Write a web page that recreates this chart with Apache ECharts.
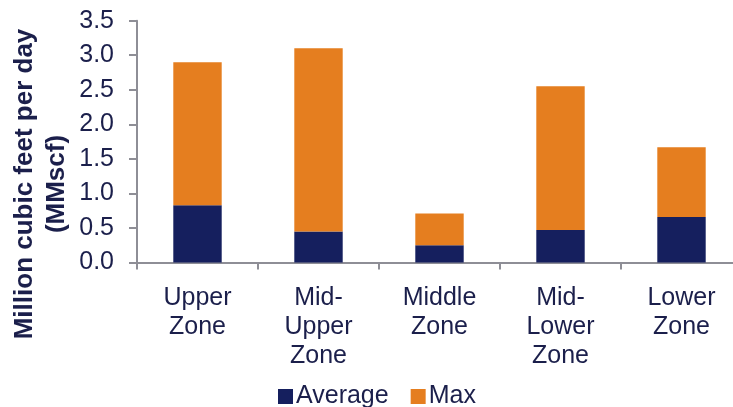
<!DOCTYPE html>
<html>
<head>
<meta charset="utf-8">
<script src="https://cdn.jsdelivr.net/npm/echarts@6/dist/echarts.min.js"></script>
<style>
html,body{margin:0;padding:0;background:#fff;}
#c{width:733px;height:407px;}
</style>
</head>
<body>
<div id="c"></div>
<script>
const categories = ["Upper\nZone", "Mid-\nUpper\nZone", "Middle\nZone", "Mid-\nLower\nZone", "Lower\nZone"];
const averageValues = [0.83, 0.45, 0.25, 0.47, 0.66];
const maxValues = [2.90, 3.10, 0.71, 2.55, 1.67];
const yTicks = [0, 0.5, 1.0, 1.5, 2.0, 2.5, 3.0, 3.5];
const yTitle = "Million cubic feet per day\n(MMscf)";

const TEXT = '#1b1f4b';
const AXIS = '#8e8e96';
const NAVY = '#151f5e';
const ORANGE = '#e57e1f';
const FONT = '"Liberation Sans", Arial, Helvetica, sans-serif';

// Max stacked on top of Average: the visible orange segment reaches the Max value
const maxRemainder = maxValues.map((m, i) => +(m - averageValues[i]).toFixed(4));

const chart = echarts.init(document.getElementById('c'), null, {renderer: 'canvas'});
chart.setOption({
  animation: false,
  backgroundColor: '#fff',
  textStyle: {fontFamily: FONT},
  grid: {left: 137, top: 20.7, bottom: 144.5, right: -9, containLabel: false, outerBoundsMode: 'none'},
  legend: {
    left: 273, top: 379,
    itemWidth: 15, itemHeight: 15, itemGap: 22,
    icon: 'rect',
    textStyle: {color: TEXT, fontSize: 25, fontFamily: FONT, padding: [0, 0, 0, -2]},
    data: ['Average', 'Max']
  },
  xAxis: {
    type: 'category',
    data: categories,
    axisLine: {show: true, lineStyle: {color: AXIS, width: 2}},
    axisTick: {show: true, length: 7, interval: 0, lineStyle: {color: AXIS, width: 2}},
    axisLabel: {
      interval: 0, color: TEXT, fontSize: 25, fontFamily: FONT,
      lineHeight: 29, margin: 21, align: 'center', verticalAlign: 'top'
    }
  },
  yAxis: {
    type: 'value',
    min: yTicks[0], max: yTicks[yTicks.length - 1], interval: 0.5,
    axisLine: {show: true, lineStyle: {color: AXIS, width: 2}},
    axisTick: {show: true, length: 8, lineStyle: {color: AXIS, width: 2}},
    splitLine: {show: false},
    axisLabel: {
      color: TEXT, fontSize: 25, fontFamily: FONT, margin: 23,
      formatter: v => v.toFixed(1)
    }
  },
  graphic: [{
    type: 'text',
    x: 41, y: 184,
    rotation: Math.PI / 2,
    style: {
      text: yTitle,
      fill: TEXT,
      font: 'bold 26px ' + FONT,
      lineHeight: 32,
      align: 'center',
      verticalAlign: 'middle'
    }
  }],
  series: [
    {
      name: 'Average', type: 'bar', stack: 'z',
      data: averageValues,
      barWidth: '40%',
      itemStyle: {color: NAVY}
    },
    {
      name: 'Max', type: 'bar', stack: 'z',
      data: maxRemainder,
      barWidth: '40%',
      itemStyle: {color: ORANGE}
    }
  ]
});
</script>
</body>
</html>
